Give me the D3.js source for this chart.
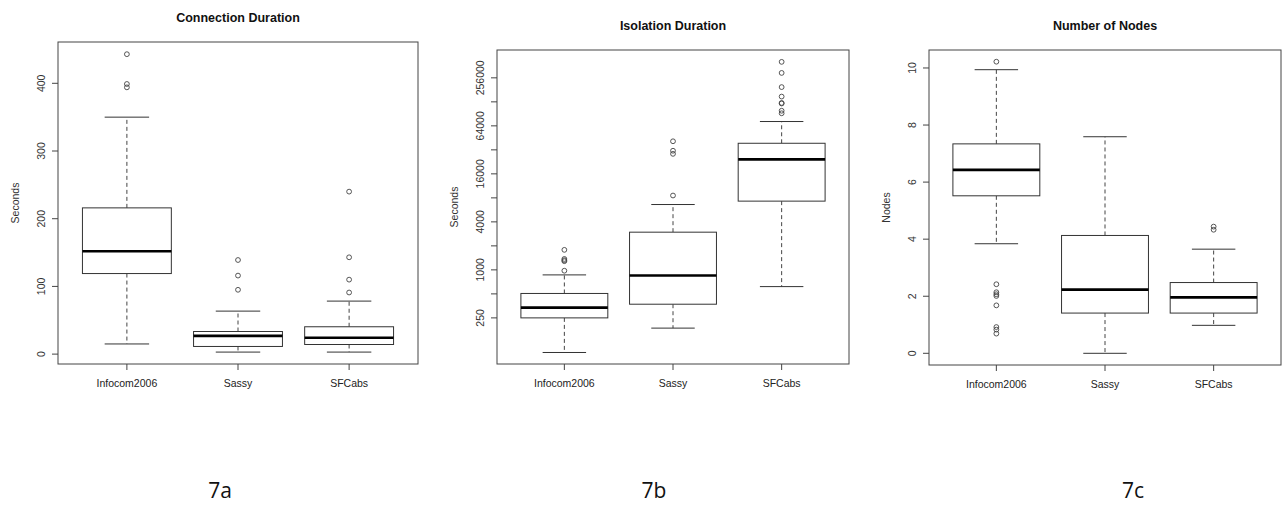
<!DOCTYPE html>
<html>
<head>
<meta charset="utf-8">
<script src="https://cdn.jsdelivr.net/npm/d3@7"></script>
<style>
  html, body { margin: 0; padding: 0; background: #fff; }
  svg { display: block; }
</style>
</head>
<body>
<svg id="fig" width="1282" height="506"></svg>
<script>
// Trace groups shown on every panel
const categories = ["Infocom2006", "Sassy", "SFCabs"];

// Five-number summaries: [lower whisker, Q1, median, Q3, upper whisker]
const connectionStats = [
  [15, 119, 152, 216, 350],
  [3, 11.3, 27, 33.4, 63.5],
  [3, 14.2, 24.1, 40.4, 78.3]
];
const connectionOutliers = [
  [443, 399, 394],
  [139, 116, 95],
  [240, 143, 110, 91]
];
const connectionTicks = [0, 100, 200, 300, 400];

const isolationStats = [
  [92, 250, 336, 506, 865],
  [186, 371, 850, 2970, 6600],
  [617, 7280, 24300, 38700, 72500]
];
const isolationOutliers = [
  [976, 1285, 1322, 1371, 1782],
  [8560, 28500, 31200, 41000],
  [406000, 295000, 196000, 149000, 124000, 122000, 99000, 92000]
];
const isolationTicks = [250, 500, 1000, 2000, 4000, 8000, 16000, 32000, 64000, 128000, 256000];
const isolationTickLabels = ["250", "", "1000", "", "4000", "", "16000", "", "64000", "", "256000"];

const nodeStats = [
  [3.84, 5.52, 6.43, 7.34, 9.94],
  [0, 1.41, 2.23, 4.13, 7.59],
  [0.98, 1.41, 1.96, 2.48, 3.65]
];
const nodeOutliers = [
  [10.22, 2.42, 2.14, 2.07, 2.01, 1.68, 0.92, 0.83, 0.69],
  [],
  [4.44, 4.33]
];
const nodeTicks = [0, 2, 4, 6, 8, 10];

const panelCaptions = ["7a", "7b", "7c"];

const svg = d3.select("#fig");
const FONT = "Liberation Sans, Arial, sans-serif";

function drawPanel(cfg) {
  const { left, right, top, bottom, title, yLabel, y, ticks, tickLabels, stats, outliers } = cfg;
  const g = svg.append("g");

  // R-style category positions: 0.5..3.5 padded by 4%
  const x = d3.scaleLinear().domain([0.38, 3.62]).range([left, right]);
  const boxW = x(1.4) - x(1.0);   // half box width (0.4 units)
  const capW = x(1.2) - x(1.0);   // half whisker cap width

  // boxes
  stats.forEach((s, i) => {
    const cx = x(i + 1);
    const [lo, q1, med, q3, hi] = s;
    const ln = (x1, y1, x2, y2, w, dash, col) =>
      g.append("line")
        .attr("x1", x1).attr("y1", y1).attr("x2", x2).attr("y2", y2)
        .attr("stroke", col || "#333").attr("stroke-width", w)
        .attr("stroke-dasharray", dash || null);
    // whiskers
    ln(cx, y(q3), cx, y(hi), 1, "4,3", "#444");
    ln(cx, y(q1), cx, y(lo), 1, "4,3", "#444");
    ln(cx - capW, y(hi), cx + capW, y(hi), 1);
    ln(cx - capW, y(lo), cx + capW, y(lo), 1);
    // box
    g.append("rect")
      .attr("x", cx - boxW).attr("y", y(q3))
      .attr("width", 2 * boxW).attr("height", y(q1) - y(q3))
      .attr("fill", "#fff").attr("stroke", "#333").attr("stroke-width", 1);
    // median
    ln(cx - boxW, y(med), cx + boxW, y(med), 2.6, null, "#000");
    // outliers
    g.selectAll(null).data(outliers[i]).enter().append("circle")
      .attr("cx", cx).attr("cy", d => y(d)).attr("r", 2.4)
      .attr("fill", "none").attr("stroke", "#444").attr("stroke-width", 0.9);
  });

  // plot frame
  g.append("rect")
    .attr("x", left).attr("y", top)
    .attr("width", right - left).attr("height", bottom - top)
    .attr("fill", "none").attr("stroke", "#444").attr("stroke-width", 1);

  // y axis ticks and rotated labels
  ticks.forEach((t, i) => {
    const ty = y(t);
    g.append("line").attr("x1", left - 6).attr("x2", left).attr("y1", ty).attr("y2", ty)
      .attr("stroke", "#444");
    const lab = tickLabels ? tickLabels[i] : String(t);
    if (lab) {
      g.append("text")
        .attr("transform", `translate(${left - 13},${ty}) rotate(-90)`)
        .attr("text-anchor", "middle")
        .attr("font-family", FONT).attr("font-size", 10.5).attr("fill", "#333")
        .text(lab);
    }
  });

  // x axis ticks and category labels
  categories.forEach((c, i) => {
    const cx = x(i + 1);
    g.append("line").attr("x1", cx).attr("x2", cx).attr("y1", bottom).attr("y2", bottom + 6)
      .attr("stroke", "#444");
    g.append("text")
      .attr("x", cx).attr("y", bottom + 23)
      .attr("text-anchor", "middle")
      .attr("font-family", FONT).attr("font-size", 10.5).attr("fill", "#222")
      .text(c);
  });

  // y axis title
  g.append("text")
    .attr("transform", `translate(${left - 39},${(top + bottom) / 2}) rotate(-90)`)
    .attr("text-anchor", "middle")
    .attr("font-family", FONT).attr("font-size", 10.5).attr("fill", "#333")
    .text(yLabel);

  // panel title
  g.append("text")
    .attr("x", (left + right) / 2).attr("y", top - 20)
    .attr("text-anchor", "middle")
    .attr("font-family", FONT).attr("font-size", 12.5).attr("font-weight", "bold")
    .attr("fill", "#111")
    .text(title);
}

// 7a: Connection Duration (linear)
drawPanel({
  left: 58, right: 418, top: 42, bottom: 364,
  title: "Connection Duration", yLabel: "Seconds",
  y: d3.scaleLinear().domain([-14.6, 461]).range([364, 42]),
  ticks: connectionTicks, stats: connectionStats, outliers: connectionOutliers
});

// 7b: Isolation Duration (log2)
drawPanel({
  left: 497, right: 849, top: 50, bottom: 364,
  title: "Isolation Duration", yLabel: "Seconds",
  y: d3.scaleLog().base(2).domain([66, 572000]).range([364, 50]),
  ticks: isolationTicks, tickLabels: isolationTickLabels,
  stats: isolationStats, outliers: isolationOutliers
});

// 7c: Number of Nodes (linear)
drawPanel({
  left: 929, right: 1281, top: 50, bottom: 365,
  title: "Number of Nodes", yLabel: "Nodes",
  y: d3.scaleLinear().domain([-0.41, 10.63]).range([365, 50]),
  ticks: nodeTicks, stats: nodeStats, outliers: nodeOutliers
});

// sub-figure captions
const captionX = [220, 654, 1133];
panelCaptions.forEach((c, i) => {
  svg.append("text")
    .attr("x", captionX[i]).attr("y", 498)
    .attr("text-anchor", "middle")
    .attr("font-family", "Open Sans, Liberation Sans, sans-serif")
    .attr("font-size", 21).attr("fill", "#111")
    .text(c);
});
</script>
</body>
</html>
